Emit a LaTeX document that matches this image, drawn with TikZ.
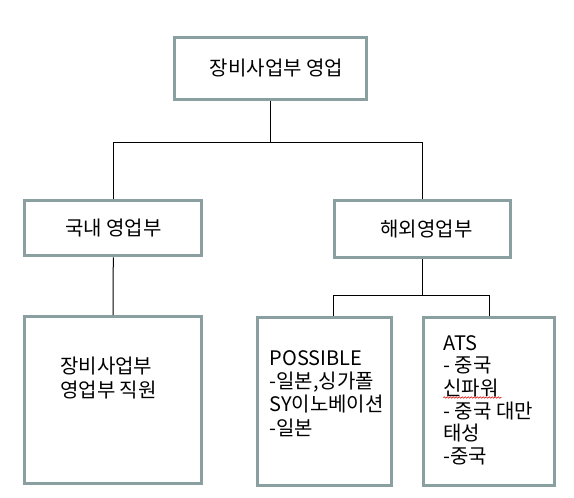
\documentclass[tikz,border=0pt]{standalone}
\usepackage{fontspec}
\setmainfont{Noto Sans CJK KR}
\usepackage{tikz}
\usetikzlibrary{decorations.pathmorphing}
\definecolor{boxgray}{HTML}{8AA0A0}
\tikzstyle{orgbox} = [draw=boxgray, line width=3pt, rectangle, fill=white, inner sep=0pt, font=\fontsize{20}{24}\selectfont]
\tikzstyle{listtext} = [anchor=north west, inner sep=0pt, align=left]
\tikzstyle{link} = [draw=black, line width=1pt]
\tikzstyle{spell} = [draw=red!85!black, line width=0.6pt, decorate, decoration={snake, amplitude=0.8pt, segment length=3pt}]

\begin{document}
\begin{tikzpicture}[x=1pt, y=-1pt]
\useasboundingbox (0,0) rectangle (574,498);
% upper boxes
\node [orgbox, minimum width=192.6pt, minimum height=62.3pt] (head) at (270.5,68.4) {\hspace{12pt}장비사업부 영업};
\node [orgbox, minimum width=177pt, minimum height=55.3pt] (dom) at (113.3,228.2) {국내 영업부};
\node [orgbox, minimum width=176.6pt, minimum height=57pt] (ovs) at (422.5,229) {\hspace{8pt}해외영업부};
% lower boxes
\node [orgbox, minimum width=176.4pt, minimum height=167pt] (staff) at (113,400) {};
\node [orgbox, minimum width=133.7pt, minimum height=168.3pt] (poss) at (324.3,401.6) {};
\node [orgbox, minimum width=131.6pt, minimum height=168pt] (ats) at (489,401.5) {};
% box texts
\node [listtext, font=\fontsize{20}{24.5}\selectfont] (staffT) at (60,356.7) {장비사업부\\영업부 직원};
\node [listtext, font=\fontsize{20}{23.3}\selectfont] (possT) at (269.3,350) {POSSIBLE\\-일본,싱가폴\\SY이노베이션\\-일본};
\node [listtext, font=\fontsize{20}{22.7}\selectfont] (atsT) at (443.3,335) {ATS\\- 중국\\신파워\\- 중국 대만\\태성\\-중국};
\draw [spell] ([shift={(0,62.5)}]atsT.north west) -- ++(58,0);
% connectors
\draw [link] (head.south) -- ++(0,41.3) coordinate (hub);
\draw [link] (dom.north) |- (hub) -| (ovs.north);
\draw [link] (dom.south) -- (staff.north);
\draw [link] (ovs.south) -- ++(0,36.3) coordinate (fork);
\draw [link] ([xshift=9pt]poss.north) |- (fork) -| (ats.north);
\end{tikzpicture}
\end{document}
